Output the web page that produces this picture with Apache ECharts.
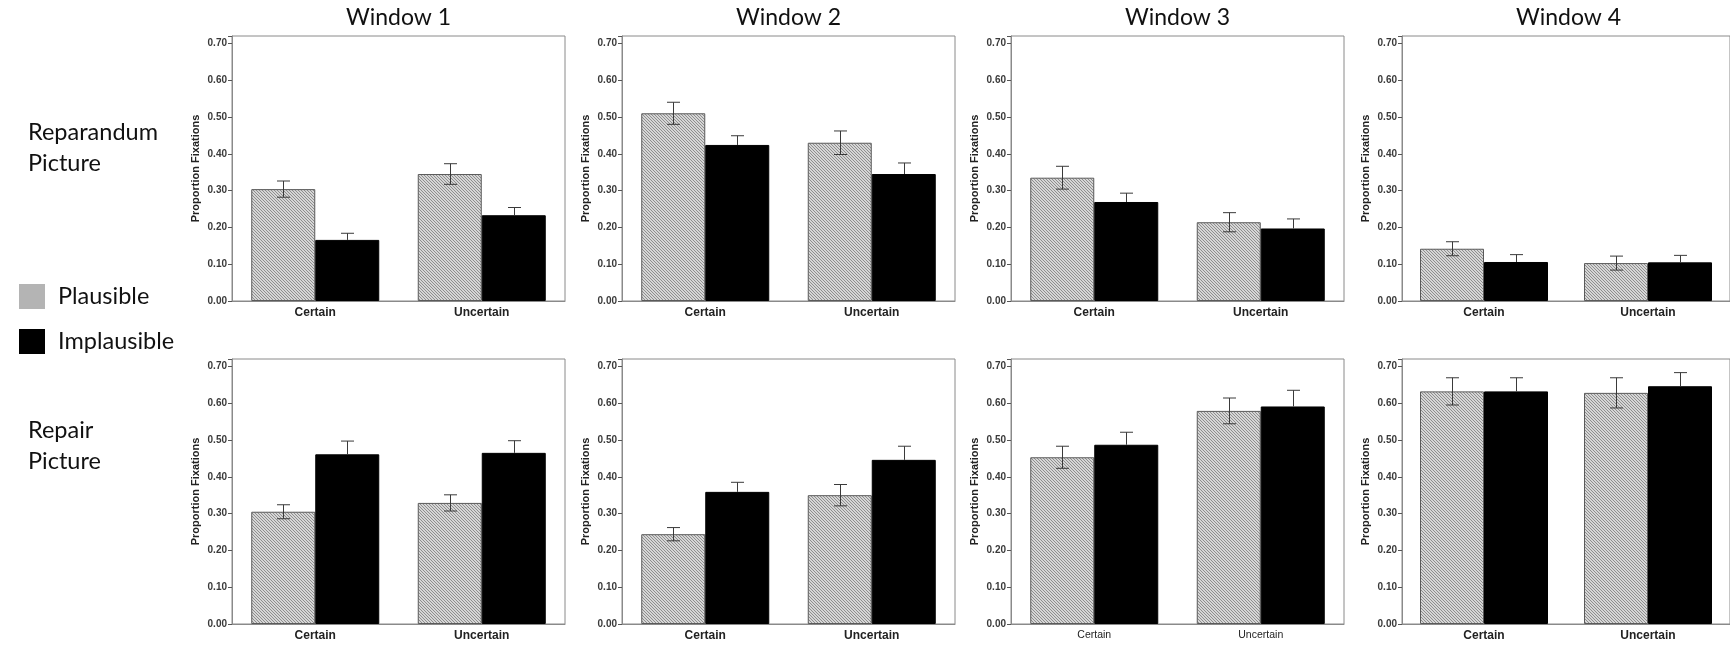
<!DOCTYPE html>
<html>
<head>
<meta charset="utf-8">
<script src="https://cdn.jsdelivr.net/npm/echarts@6/dist/echarts.min.js"></script>
<style>
  html, body { margin: 0; padding: 0; background: #fff; }
  #chart { width: 1730px; height: 646px; }
</style>
</head>
<body>
<div id="chart"></div>
<script>
// ---- data ----
var categories = ['Certain', 'Uncertain'];
var windows = ['Window 1', 'Window 2', 'Window 3', 'Window 4'];
var rowNames = ['Reparandum\nPicture', 'Repair\nPicture'];
var seriesNames = ['Plausible', 'Implausible'];

// Reparandum picture row: [window][certain, uncertain]
var repPlausible    = [[0.304, 0.345], [0.510, 0.430], [0.335, 0.214], [0.142, 0.103]];
var repPlausibleErr = [[0.022, 0.028], [0.030, 0.032], [0.031, 0.026], [0.019, 0.019]];
var repImplaus      = [[0.166, 0.233], [0.424, 0.345], [0.269, 0.197], [0.106, 0.105]];
var repImplausErr   = [[0.018, 0.021], [0.025, 0.030], [0.024, 0.026], [0.020, 0.019]];

// Repair picture row
var fixPlausible    = [[0.305, 0.329], [0.244, 0.350], [0.453, 0.579], [0.632, 0.628]];
var fixPlausibleErr = [[0.019, 0.022], [0.018, 0.029], [0.030, 0.035], [0.037, 0.041]];
var fixImplaus      = [[0.461, 0.465], [0.359, 0.446], [0.487, 0.591], [0.632, 0.646]];
var fixImplausErr   = [[0.036, 0.033], [0.026, 0.037], [0.034, 0.044], [0.037, 0.037]];

var yMin = 0, yMax = 0.72, yStep = 0.1;

// ---- layout ----
var gridLefts = [232, 622, 1011, 1402];
var rowTops = [36, 359];
var gridW = 333, gridH = 265;
var barW = 64;

var chart = echarts.init(document.getElementById('chart'));

// hatched fill for the plausible bars
function hatch() {
    var c = document.createElement('canvas');
    c.width = 3; c.height = 3;
    var ctx = c.getContext('2d');
    ctx.fillStyle = '#d6d6d6';
    ctx.fillRect(0, 0, 3, 3);
    ctx.fillStyle = '#8e8e8e';
    for (var i = 0; i < 3; i++) ctx.fillRect(i, i, 1, 1);
    return c;
}
var hatchFill = { image: hatch(), repeat: 'repeat' };

function errRender(params, api) {
    var cat = api.value(0), lo = api.value(1), hi = api.value(2), side = api.value(3), mid = api.value(4);
    var top = api.coord([cat, hi]);
    var bot = api.coord([cat, lo]);
    var x = Math.round(top[0] + side * barW / 2) + 0.5;
    var st = { stroke: '#3a3a3a', lineWidth: 1 };
    var hw = 6.5;
    var kids = [
        { type: 'line', shape: { x1: x - hw, y1: top[1], x2: x + hw, y2: top[1] }, style: st }
    ];
    if (side < 0) {
        kids.push({ type: 'line', shape: { x1: x, y1: top[1], x2: x, y2: bot[1] }, style: st });
        kids.push({ type: 'line', shape: { x1: x - hw, y1: bot[1], x2: x + hw, y2: bot[1] }, style: st });
    } else {
        // lower half sits inside the black bar and cannot be seen
        var m = api.coord([cat, mid]);
        kids.push({ type: 'line', shape: { x1: x, y1: top[1], x2: x, y2: m[1] }, style: st });
    }
    return { type: 'group', children: kids };
}

var grids = [], xAxes = [], yAxes = [], series = [], graphics = [];
var rowData = [
    [repPlausible, repPlausibleErr, repImplaus, repImplausErr],
    [fixPlausible, fixPlausibleErr, fixImplaus, fixImplausErr]
];
var axisFont = 'Liberation Sans, Arial, sans-serif';

for (var r = 0; r < 2; r++) {
    for (var w = 0; w < 4; w++) {
        var g = grids.length;
        grids.push({
            left: gridLefts[w], top: rowTops[r], width: gridW, height: gridH,
            show: true, borderColor: '#8a8a8a', borderWidth: 1
        });
        var small = (r === 1 && w === 2);
        xAxes.push({
            type: 'category', gridIndex: g, data: categories,
            axisLine: { lineStyle: { color: '#8a8a8a' } },
            axisTick: { alignWithLabel: true, length: 4, lineStyle: { color: '#555' } },
            axisLabel: {
                fontFamily: axisFont,
                fontSize: small ? 10.5 : 12,
                fontWeight: small ? 'normal' : 'bold',
                color: '#222', margin: 6
            }
        });
        yAxes.push({
            type: 'value', gridIndex: g, min: yMin, max: yMax, interval: yStep,
            name: 'Proportion Fixations', nameLocation: 'middle', nameRotate: 90, nameGap: 31,
            nameTextStyle: { fontFamily: axisFont, fontSize: 11, fontWeight: 'bold', color: '#222' },
            axisLine: { show: true, lineStyle: { color: '#8a8a8a' } },
            axisTick: { show: true, length: 4, lineStyle: { color: '#555' } },
            splitLine: { show: false },
            axisLabel: {
                fontFamily: axisFont, fontSize: 10, fontWeight: 'bold', color: '#3a3a3a', margin: 5,
                formatter: function (v) {
                    var k = Math.round(v / yStep);
                    return Math.abs(v - k * yStep) < 1e-6 ? v.toFixed(2) : '';
                }
            }
        });

        var d = rowData[r];
        series.push({
            name: seriesNames[0], type: 'bar', xAxisIndex: g, yAxisIndex: g,
            data: d[0][w], barWidth: barW, barGap: '0%',
            itemStyle: { color: hatchFill, borderColor: '#5a5a5a', borderWidth: 1 }
        });
        series.push({
            name: seriesNames[1], type: 'bar', xAxisIndex: g, yAxisIndex: g,
            data: d[2][w], barWidth: barW, barGap: '0%',
            itemStyle: { color: '#000', borderColor: '#000', borderWidth: 1 }
        });
        var errData = [];
        for (var c = 0; c < categories.length; c++) {
            errData.push([c, d[0][w][c] - d[1][w][c], d[0][w][c] + d[1][w][c], -1, d[0][w][c]]);
            errData.push([c, d[2][w][c] - d[3][w][c], d[2][w][c] + d[3][w][c], 1, d[2][w][c]]);
        }
        series.push({
            type: 'custom', xAxisIndex: g, yAxisIndex: g, z: 10,
            renderItem: errRender, data: errData,
            encode: { x: 0, y: [1, 2] }
        });
    }
}

var bigFont = 'Lato, "Open Sans", sans-serif';
for (var w2 = 0; w2 < 4; w2++) {
    graphics.push({
        type: 'text', x: gridLefts[w2] + gridW / 2, y: 18,
        style: { text: windows[w2], fill: '#111', fontSize: 23, fontFamily: bigFont, align: 'center', verticalAlign: 'middle' }
    });
}
var rowLabelTops = [117, 415];
for (var r2 = 0; r2 < 2; r2++) {
    graphics.push({
        type: 'text', x: 28, y: rowLabelTops[r2],
        style: { text: rowNames[r2], fill: '#111', fontSize: 23.5, lineHeight: 31, fontFamily: bigFont, align: 'left', verticalAlign: 'top' }
    });
}

var option = {
    animation: false,
    backgroundColor: '#fff',
    legend: {
        orient: 'vertical', left: 14, top: 279,
        itemWidth: 26, itemHeight: 25, itemGap: 20,
        icon: 'rect', selectedMode: false,
        textStyle: { fontSize: 23.5, fontFamily: bigFont, color: '#111', padding: [0, 0, 0, 8] },
        data: [
            { name: seriesNames[0], itemStyle: { color: '#b4b4b4', borderWidth: 0 } },
            { name: seriesNames[1], itemStyle: { color: '#000', borderWidth: 0 } }
        ]
    },
    grid: grids,
    xAxis: xAxes,
    yAxis: yAxes,
    series: series,
    graphic: graphics
};
chart.setOption(option);

window.addEventListener('resize', function () {
    chart.resize();
});
</script>
</body>
</html>
